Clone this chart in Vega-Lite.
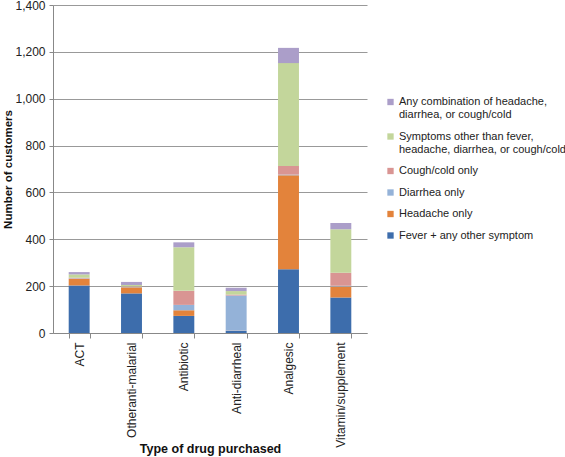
{
  "$schema": "https://vega.github.io/schema/vega-lite/v6.json",
  "width": 314,
  "height": 328,
  "autosize": {"type": "none"},
  "padding": {"left": 53, "top": 5, "right": 198, "bottom": 124},
  "background": "white",
  "config": {
    "font": "Liberation Sans",
    "view": {"stroke": null}
  },
  "data": {
    "values": [
      {"drug": "ACT", "symptom": "Fever + any other symptom", "k": 1, "count": 203},
      {"drug": "ACT", "symptom": "Headache only", "k": 2, "count": 28},
      {"drug": "ACT", "symptom": "Diarrhea only", "k": 3, "count": 2},
      {"drug": "ACT", "symptom": "Cough/cold only", "k": 4, "count": 3},
      {"drug": "ACT", "symptom": "Symptoms other than fever, headache, diarrhea, or cough/cold", "k": 5, "count": 14},
      {"drug": "ACT", "symptom": "Any combination of headache, diarrhea, or cough/cold", "k": 6, "count": 10},
      {"drug": "Otheranti-malarial", "symptom": "Fever + any other symptom", "k": 1, "count": 169},
      {"drug": "Otheranti-malarial", "symptom": "Headache only", "k": 2, "count": 26},
      {"drug": "Otheranti-malarial", "symptom": "Diarrhea only", "k": 3, "count": 2},
      {"drug": "Otheranti-malarial", "symptom": "Cough/cold only", "k": 4, "count": 2},
      {"drug": "Otheranti-malarial", "symptom": "Symptoms other than fever, headache, diarrhea, or cough/cold", "k": 5, "count": 6},
      {"drug": "Otheranti-malarial", "symptom": "Any combination of headache, diarrhea, or cough/cold", "k": 6, "count": 13},
      {"drug": "Antibiotic", "symptom": "Fever + any other symptom", "k": 1, "count": 73},
      {"drug": "Antibiotic", "symptom": "Headache only", "k": 2, "count": 24},
      {"drug": "Antibiotic", "symptom": "Diarrhea only", "k": 3, "count": 23},
      {"drug": "Antibiotic", "symptom": "Cough/cold only", "k": 4, "count": 60},
      {"drug": "Antibiotic", "symptom": "Symptoms other than fever, headache, diarrhea, or cough/cold", "k": 5, "count": 186},
      {"drug": "Antibiotic", "symptom": "Any combination of headache, diarrhea, or cough/cold", "k": 6, "count": 21},
      {"drug": "Anti-diarrheal", "symptom": "Fever + any other symptom", "k": 1, "count": 9},
      {"drug": "Anti-diarrheal", "symptom": "Headache only", "k": 2, "count": 1},
      {"drug": "Anti-diarrheal", "symptom": "Diarrhea only", "k": 3, "count": 150},
      {"drug": "Anti-diarrheal", "symptom": "Cough/cold only", "k": 4, "count": 4},
      {"drug": "Anti-diarrheal", "symptom": "Symptoms other than fever, headache, diarrhea, or cough/cold", "k": 5, "count": 15},
      {"drug": "Anti-diarrheal", "symptom": "Any combination of headache, diarrhea, or cough/cold", "k": 6, "count": 14},
      {"drug": "Analgesic", "symptom": "Fever + any other symptom", "k": 1, "count": 272},
      {"drug": "Analgesic", "symptom": "Headache only", "k": 2, "count": 401},
      {"drug": "Analgesic", "symptom": "Diarrhea only", "k": 3, "count": 3},
      {"drug": "Analgesic", "symptom": "Cough/cold only", "k": 4, "count": 37},
      {"drug": "Analgesic", "symptom": "Symptoms other than fever, headache, diarrhea, or cough/cold", "k": 5, "count": 439},
      {"drug": "Analgesic", "symptom": "Any combination of headache, diarrhea, or cough/cold", "k": 6, "count": 65},
      {"drug": "Vitamin/supplement", "symptom": "Fever + any other symptom", "k": 1, "count": 152},
      {"drug": "Vitamin/supplement", "symptom": "Headache only", "k": 2, "count": 47},
      {"drug": "Vitamin/supplement", "symptom": "Diarrhea only", "k": 3, "count": 3},
      {"drug": "Vitamin/supplement", "symptom": "Cough/cold only", "k": 4, "count": 55},
      {"drug": "Vitamin/supplement", "symptom": "Symptoms other than fever, headache, diarrhea, or cough/cold", "k": 5, "count": 186},
      {"drug": "Vitamin/supplement", "symptom": "Any combination of headache, diarrhea, or cough/cold", "k": 6, "count": 26}
    ]
  },
  "mark": {"type": "bar"},
  "encoding": {
    "x": {
      "field": "drug",
      "type": "nominal",
      "sort": ["ACT", "Otheranti-malarial", "Antibiotic", "Anti-diarrheal", "Analgesic", "Vitamin/supplement"],
      "scale": {"paddingInner": 0.6, "paddingOuter": 0.3},
      "title": "Type of drug purchased",
      "axis": {
        "labelAngle": -90,
        "labelFontSize": 12,
        "labelColor": "#222",
        "labelPadding": 4,
        "tickBand": "extent",
        "tickSize": 5,
        "tickColor": "#888",
        "domainColor": "#888",
        "titleFontSize": 12.5,
        "titleFontWeight": "bold",
        "titleColor": "#111",
        "titleBaseline": "alphabetic",
        "titleY": 119
      }
    },
    "y": {
      "field": "count",
      "type": "quantitative",
      "stack": "zero",
      "scale": {"domain": [0, 1400], "nice": false},
      "title": "Number of customers",
      "axis": {
        "values": [0, 200, 400, 600, 800, 1000, 1200, 1400],
        "format": ",.0f",
        "labelFontSize": 12,
        "labelColor": "#222",
        "labelPadding": 4,
        "tickSize": 4,
        "tickColor": "#888",
        "domainColor": "#888",
        "gridColor": "#999",
        "gridWidth": 1.2,
        "titleFontSize": 11.5,
        "titleFontWeight": "bold",
        "titleColor": "#111",
        "titleBaseline": "middle",
        "titleX": -45
      }
    },
    "color": {
      "field": "symptom",
      "type": "nominal",
      "sort": [
        "Any combination of headache, diarrhea, or cough/cold",
        "Symptoms other than fever, headache, diarrhea, or cough/cold",
        "Cough/cold only",
        "Diarrhea only",
        "Headache only",
        "Fever + any other symptom"
      ],
      "scale": {
        "domain": [
          "Any combination of headache, diarrhea, or cough/cold",
          "Symptoms other than fever, headache, diarrhea, or cough/cold",
          "Cough/cold only",
          "Diarrhea only",
          "Headache only",
          "Fever + any other symptom"
        ],
        "range": ["#ab9ec9", "#c3d69b", "#d99593", "#94b2d8", "#e3833b", "#3d6dac"]
      },
      "legend": {
        "title": null,
        "orient": "none",
        "legendX": 332,
        "legendY": 91.5,
        "symbolType": "square",
        "symbolSize": 40,
        "symbolStrokeWidth": 0,
        "labelFontSize": 11,
        "labelColor": "#222",
        "labelOffset": 3,
        "labelLimit": 300,
        "rowPadding": 9.5,
        "labelExpr": "datum.label == 'Any combination of headache, diarrhea, or cough/cold' ? ['Any combination of headache,', 'diarrhea, or cough/cold'] : datum.label == 'Symptoms other than fever, headache, diarrhea, or cough/cold' ? ['Symptoms other than fever,', 'headache, diarrhea, or cough/cold'] : datum.label"
      }
    },
    "order": {"field": "k", "type": "quantitative"}
  }
}
